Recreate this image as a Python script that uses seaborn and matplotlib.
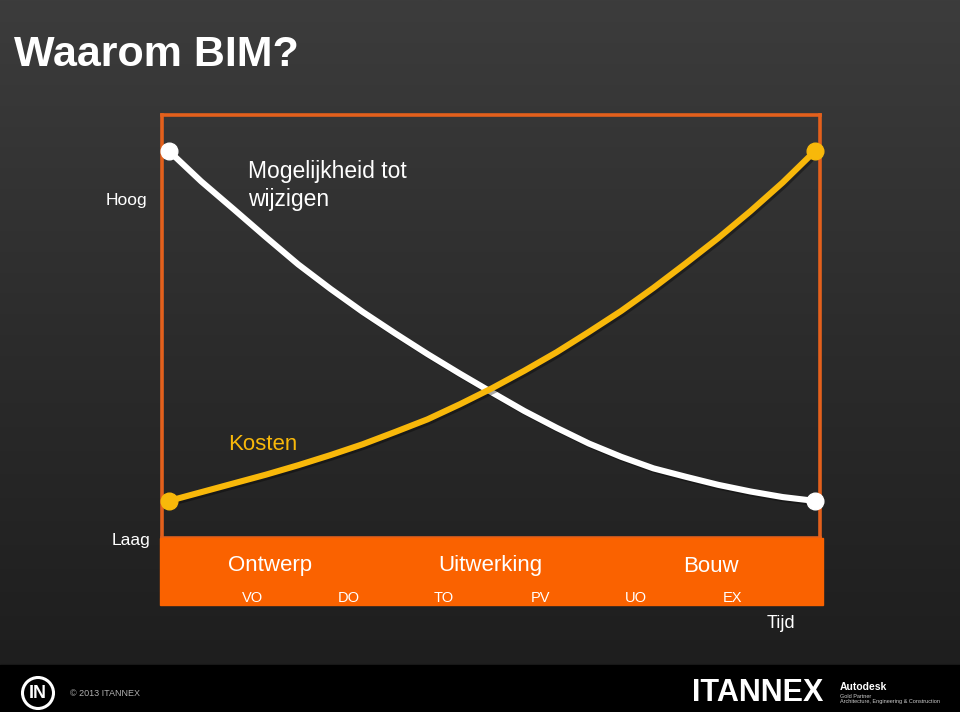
import numpy as np
import pandas as pd
import matplotlib
matplotlib.use("Agg")
import matplotlib.pyplot as plt
import matplotlib.patheffects as pe
from matplotlib.patches import Rectangle, Circle
from matplotlib.colors import LinearSegmentedColormap
import seaborn as sns

# ---- data ----
title = "Waarom BIM?"
tijd = [0, 5, 10, 15, 20, 25, 30, 35, 40, 45, 50,
        55, 60, 65, 70, 75, 80, 85, 90, 95, 100]
mogelijkheid = [100, 91.3, 83.4, 75.4, 67.6, 60.6, 54.0, 47.9, 42.0, 36.4, 31.0,
                25.7, 20.9, 16.4, 12.6, 9.3, 6.9, 4.6, 2.7, 1.1, 0]
kosten = [0, 2.5, 5.0, 7.5, 10.2, 13.1, 16.2, 19.7, 23.3, 27.6, 32.2,
          37.2, 42.5, 48.3, 54.3, 60.9, 67.9, 75.1, 82.8, 91.0, 100]
fasen = ["Ontwerp", "Uitwerking", "Bouw"]
subfasen = ["VO", "DO", "TO", "PV", "UO", "EX"]
y_labels = ["Hoog", "Laag"]

W, H = 960, 712
sns.set_style("dark")
plt.rcParams['font.family'] = ['Liberation Sans', 'DejaVu Sans']

fig = plt.figure(figsize=(W / 100, H / 100), dpi=100)

def fx(x):
    return x / W

def fy(y):
    return 1 - y / H

# background gradient
bg = fig.add_axes([0, 0, 1, 1], zorder=-10)
cmap = LinearSegmentedColormap.from_list("bg", ["#3c3c3c", "#2b2b2b", "#1c1c1c"])
grad = np.linspace(0, 1, 256)[:, None]
bg.imshow(grad, cmap=cmap, aspect="auto", extent=[0, 1, 0, 1], origin="upper")
bg.add_patch(Rectangle((0, 0), 1, 47 / H, color="black"))
bg.set_xlim(0, 1)
bg.set_ylim(0, 1)
bg.axis("off")

# main axes
ax = fig.add_axes([fx(162), fy(538), 658 / W, 423 / H])
ax.set_facecolor("none")
ax.set_xlim(-1.08, 100.77)
ax.set_ylim(-10.6, 110.3)
for s in ["left", "right", "top", "bottom"]:
    ax.spines[s].set_color("#e3601c")
    ax.spines[s].set_linewidth(2.6)
ax.set_xticks([])
ax.set_yticks([])

df = pd.DataFrame({"tijd": tijd, "Mogelijkheid": mogelijkheid, "Kosten": kosten})
shadow = [pe.SimpleLineShadow(offset=(1.5, -1.5), shadow_color="black", alpha=0.35), pe.Normal()]

WHITE = "#ffffff"
YELLOW = "#f8b80a"
sns.lineplot(data=df, x="tijd", y="Mogelijkheid", ax=ax, color=WHITE, linewidth=4.4,
             path_effects=shadow, solid_capstyle="round", solid_joinstyle="round")
sns.lineplot(data=df, x="tijd", y="Kosten", ax=ax, color=YELLOW, linewidth=4.4,
             path_effects=shadow, solid_capstyle="round", solid_joinstyle="round")
ax.plot([tijd[0], tijd[-1]], [mogelijkheid[0], mogelijkheid[-1]], "o", ms=12,
        color=WHITE, clip_on=False, zorder=5)
ax.plot([tijd[0], tijd[-1]], [kosten[0], kosten[-1]], "o", ms=12,
        color=YELLOW, clip_on=False, zorder=5)
ax.set_xlabel("")
ax.set_ylabel("")

# curve labels
fig.text(fx(248), fy(178), "Mogelijkheid tot", color="white", fontsize=16.5,
         ha="left", va="baseline")
fig.text(fx(248), fy(206), "wijzigen", color="white", fontsize=16.5,
         ha="left", va="baseline")
fig.text(fx(228), fy(444), "Kosten", color=YELLOW, fontsize=16, ha="left", va="center")

# y labels
fig.text(fx(147), fy(200), y_labels[0], color="white", fontsize=12.5, ha="right", va="center")
fig.text(fx(150), fy(540), y_labels[1], color="white", fontsize=12.5, ha="right", va="center")

# title
fig.text(fx(14), fy(55), title, color="white", fontsize=31, fontweight="bold",
         ha="left", va="center")

# orange band
fig.patches.append(Rectangle((fx(160), fy(605)), (823 - 160) / W, (605 - 538) / H,
                             transform=fig.transFigure, color="#fa6200", zorder=6))
for name, x in zip(fasen, [270, 490, 711]):
    fig.text(fx(x), fy(566), name, color="white", fontsize=16, ha="center", va="center", zorder=7)
for name, x in zip(subfasen, [253, 349, 444, 540, 636, 732]):
    fig.text(fx(x), fy(598), name, color="white", fontsize=10.5, ha="center", va="center", zorder=7)
fig.text(fx(781), fy(623), "Tijd", color="white", fontsize=13, ha="center", va="center")

# footer
fax = fig.add_axes([0, 0, 1, 47 / H], zorder=8)
fax.set_xlim(0, W)
fax.set_ylim(0, 47)
fax.set_aspect("equal")
fax.axis("off")
fax.add_patch(Circle((38, 19), 15.5, facecolor="black", edgecolor="white", linewidth=2.2))
fax.text(38, 19, "IN", color="white", fontsize=13, fontweight="bold", ha="center", va="center")
fax.text(70, 18, "\u00a9 2013 ITANNEX", color="#b0b0b0", fontsize=6.5, ha="left", va="center")
fax.text(692, 19, "ITANNEX", color="white", fontsize=22, fontweight="bold", ha="left", va="center")
fax.text(840, 25, "Autodesk", color="white", fontsize=7.5, fontweight="bold", ha="left", va="center")
fax.text(840, 16, "Gold Partner", color="#cccccc", fontsize=4, ha="left", va="center")
fax.text(840, 10, "Architecture, Engineering & Construction", color="#cccccc", fontsize=4,
         ha="left", va="center")

fig.savefig("out.png", dpi=100, facecolor="#2a2a2a")
